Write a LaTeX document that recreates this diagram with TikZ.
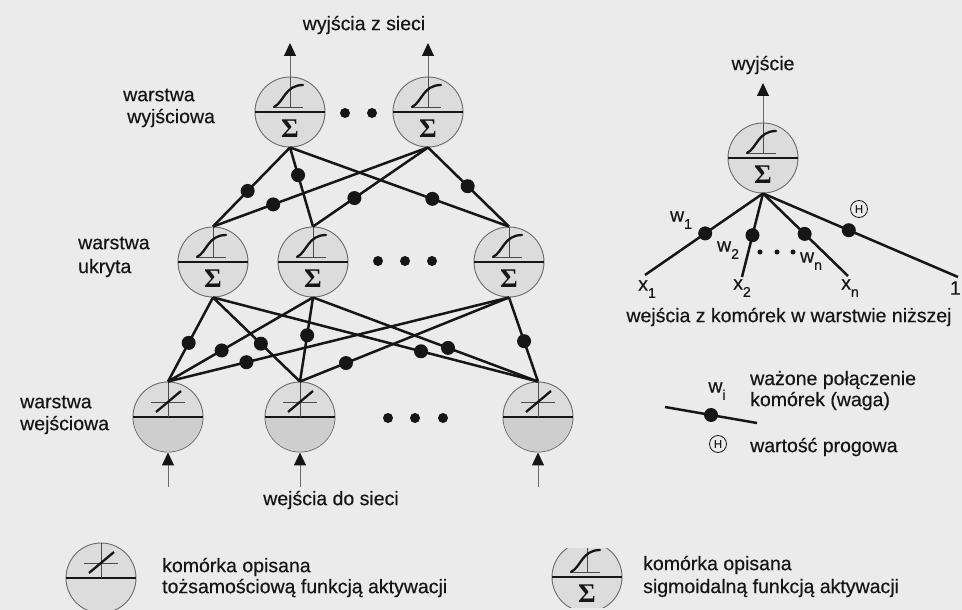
\documentclass[tikz,border=0pt]{standalone}
\usepackage{fontspec}
\setmainfont{Liberation Sans}
\newfontfamily\lblfont{Liberation Sans}[FakeBold=0.35]
\newfontfamily\sigmafont{Liberation Serif}
\usetikzlibrary{arrows.meta}

\definecolor{paper}{HTML}{EBEBEB}
\definecolor{cellfill}{HTML}{DCDCDC}
\definecolor{cellfilldark}{HTML}{CECECE}
\definecolor{rim}{HTML}{6A6A6A}
\definecolor{ink}{HTML}{161616}

% lowered index for w_i and x_i labels
\newcommand{\lowidx}[1]{\raisebox{-0.7ex}{\fontsize{14}{14}\selectfont #1}}

\tikzset{
  cell/.style={circle, draw=rim, line width=0.9pt, fill=cellfill,
               minimum size=70pt, inner sep=0pt},
  conn/.style={draw=ink, line width=2.5pt},
  wdot/.style={circle, fill=ink, minimum size=14pt, inner sep=0pt},
  gapdot/.style={circle, fill=ink, minimum size=10pt, inner sep=0pt},
  tinydot/.style={circle, fill=ink, minimum size=5pt, inner sep=0pt},
  io/.style={draw=rim, line width=1pt,
             -{Triangle[length=13pt,width=12pt,color=ink,fill=ink]}},
  lbl/.style={font=\lblfont\fontsize{19.5}{22}\selectfont, text=ink, inner sep=0pt},
  thr/.style={circle, draw=ink, line width=0.8pt, minimum size=17pt, inner sep=0pt,
              font=\lblfont\fontsize{11}{11}\selectfont, text=ink},
  % sigmoid activation cell: ramp over thin axes, sum sign below the divider
  pics/sigmoid/.style={code={
    \draw[ink, line width=1.1pt] (-35,0) -- (35,0);
    \draw[rim!70!black, line width=0.8pt] (0,-35) -- (0,-4) (-16,-5) -- (13,-5);
    \draw[ink, line width=2.3pt, line cap=round]
      (-16,-5) .. controls (-6,-10) and (-5,-27) .. (13,-27);
    \node[font=\sigmafont\bfseries\fontsize{27}{27}\selectfont, text=ink,
          inner sep=0pt] (-sum) at (0,17) {Σ};
  }},
  % identity activation cell: straight diagonal over thin axes
  pics/identity/.style={code={
    \draw[ink, line width=1.1pt] (-35,0) -- (35,0);
    \draw[rim!70!black, line width=0.8pt] (0,-35) -- (0,0) (-17,-15) -- (17,-15);
    \draw[ink, line width=2.3pt] (-12,-5) -- (13,-26);
  }},
  pics/lowerhalf/.style={code={
    \begin{scope}
      \clip (-36,0) rectangle (36,36);
      \fill[cellfilldark] (0,0) circle (34.5);
    \end{scope}
  }},
}

\begin{document}
\begin{tikzpicture}[x=1pt, y=-1pt]
  \useasboundingbox (0,0) rectangle (962,610);
  \clip (0,0) rectangle (962,610);
  \fill[paper] (0,0) rectangle (962,610);

  % ---------- network cells ----------
  \node[cell] (o1) at (290,112) {};
  \node[cell] (o2) at (428,112) {};
  \node[cell] (h1) at (213,262) {};
  \node[cell] (h2) at (313,262) {};
  \node[cell] (h3) at (509,262) {};
  \node[cell] (i1) at (168,417) {};
  \node[cell] (i2) at (300,417) {};
  \node[cell] (i3) at (538,417) {};

  \foreach \c in {i1,i2,i3} { \pic at (\c.center) {lowerhalf}; }
  \foreach \c in {o1,o2,h1,h2,h3} { \pic (\c s) at (\c.center) {sigmoid}; }
  \foreach \c in {i1,i2,i3} { \pic at (\c.center) {identity}; }

  % ellipsis dots within the layers
  \node[gapdot] (go1) at (345,113) {};
  \node[gapdot] (go2) at (372,113) {};
  \node[gapdot] (gh1) at (378,261) {};
  \node[gapdot] (gh2) at (405,261) {};
  \node[gapdot] (gh3) at (432,261) {};
  \node[gapdot] (gi1) at (388,418) {};
  \node[gapdot] (gi2) at (415,418) {};
  \node[gapdot] (gi3) at (443,418) {};

  % ---------- hidden -> output weights ----------
  \draw[conn] (o1.south) -- node[wdot,pos=.55] (a11) {} (h1.north);
  \draw[conn] (o1.south) -- node[wdot,pos=.35] (a12) {} (h2.north);
  \draw[conn] (o1.south) -- node[wdot,pos=.65] (a13) {} (h3.north);
  \draw[conn] (o2.south) -- node[wdot,pos=.72] (a21) {} (h1.north);
  \draw[conn] (o2.south) -- node[wdot,pos=.64] (a22) {} (h2.north);
  \draw[conn] (o2.south) -- node[wdot,pos=.49] (a23) {} (h3.north);

  % ---------- input -> hidden weights ----------
  \draw[conn] (h1.south) -- node[wdot,pos=.54] (b11) {} (i1.north);
  \draw[conn] (h2.south) -- node[wdot,pos=.63] (b21) {} (i1.north);
  \draw[conn] (h3.south) -- node[wdot,pos=.77] (b31) {} (i1.north);
  \draw[conn] (h1.south) -- node[wdot,pos=.55] (b12) {} (i2.north);
  \draw[conn] (h2.south) -- node[wdot,pos=.45] (b22) {} (i2.north);
  \draw[conn] (h3.south) -- node[wdot,pos=.78] (b32) {} (i2.north);
  \draw[conn] (h1.south) -- node[wdot,pos=.64] (b13) {} (i3.north);
  \draw[conn] (h2.south) -- node[wdot,pos=.60] (b23) {} (i3.north);
  \draw[conn] (h3.south) -- node[wdot,pos=.52] (b33) {} (i3.north);

  % ---------- network outputs and inputs ----------
  \coordinate (out1) at (290,43);
  \coordinate (out2) at (428,43);
  \draw[io] (o1.north) -- (out1);
  \draw[io] (o2.north) -- (out2);
  \coordinate (in1) at (168,487);
  \coordinate (in2) at (300,487);
  \coordinate (in3) at (538,487);
  \draw[io] (in1) -- (i1.south);
  \draw[io] (in2) -- (i2.south);
  \draw[io] (in3) -- (i3.south);

  % ---------- layer captions ----------
  \node[lbl] (tout) at (364,25) {wyjścia z sieci};
  \node[lbl, anchor=west] (lo1) at (123,95) {warstwa};
  \node[lbl, anchor=west] (lo2) at (127,118) {wyjściowa};
  \node[lbl, anchor=west] (lh1) at (78,243) {warstwa};
  \node[lbl, anchor=west] (lh2) at (78,268) {ukryta};
  \node[lbl, anchor=west] (li1) at (20,402) {warstwa};
  \node[lbl, anchor=west] (li2) at (20,425) {wejściowa};
  \node[lbl] (tin) at (331,500) {wejścia do sieci};

  % ---------- single neuron detail ----------
  \node[cell] (r) at (763,158) {};
  \pic (rs) at (r.center) {sigmoid};
  \coordinate (rtop) at (763,83);
  \draw[io] (r.north) -- (rtop);
  \node[lbl] (tr) at (763,65) {wyjście};

  \coordinate (rx1) at (645,275);
  \coordinate (rx2) at (742,277);
  \coordinate (rxn) at (848,276);
  \coordinate (rx0) at (958,277);
  \draw[conn] (r.south) -- node[wdot,pos=.49] (rw1) {} (rx1);
  \draw[conn] (r.south) -- node[wdot,pos=.50] (rw2) {} (rx2);
  \draw[conn] (r.south) -- node[wdot,pos=.49] (rwn) {} (rxn);
  \draw[conn] (r.south) -- node[wdot,pos=.44] (rwt) {} (rx0);

  \node[lbl] (lw1) at (681,220) {w\lowidx{1}};
  \node[lbl] (lw2) at (728,250) {w\lowidx{2}};
  \node[lbl] (lwn) at (811,261) {w\lowidx{n}};
  \node[tinydot] (rd1) at (760,252) {};
  \node[tinydot] (rd2) at (777,252) {};
  \node[tinydot] (rd3) at (793,252) {};
  \node[thr] (th) at (859,209) {H};
  \node[lbl] (lx1) at (647,289) {x\lowidx{1}};
  \node[lbl] (lx2) at (742,288) {x\lowidx{2}};
  \node[lbl] (lxn) at (850,288) {x\lowidx{n}};
  \node[lbl, anchor=east] (lx0) at (961,288) {1};
  \node[lbl] (tlow) at (789,317) {wejścia z komórek w warstwie niższej};

  % ---------- legend: weighted connection and threshold ----------
  \coordinate (wa) at (665,407);
  \coordinate (wb) at (757,423);
  \draw[conn] (wa) -- node[wdot,pos=.5] (wm) {} (wb);
  \node[lbl] (lwi) at (717,391) {w\lowidx{i}};
  \node[lbl, anchor=west] (tw1) at (750,380) {ważone połączenie};
  \node[lbl, anchor=west] (tw2) at (750,401) {komórek (waga)};
  \node[thr] (th2) at (718,444) {H};
  \node[lbl, anchor=west] (tth) at (750,447) {wartość progowa};

  % ---------- legend: cell types ----------
  \node[cell] (ci) at (101,578) {};
  \pic at (ci.center) {identity};
  \node[lbl, anchor=west] (tc1) at (162,567) {komórka opisana};
  \node[lbl, anchor=west] (tc2) at (162,588) {tożsamościową funkcją aktywacji};

  \begin{scope}
    \clip (545,548) rectangle (630,607);
    \node[cell] (cs) at (587,577) {};
    \pic (css) at (cs.center) {sigmoid};
  \end{scope}
  \node[lbl, anchor=west] (tc3) at (643,565) {komórka opisana};
  \node[lbl, anchor=west] (tc4) at (643,588) {sigmoidalną funkcją aktywacji};
\end{tikzpicture}
\end{document}
